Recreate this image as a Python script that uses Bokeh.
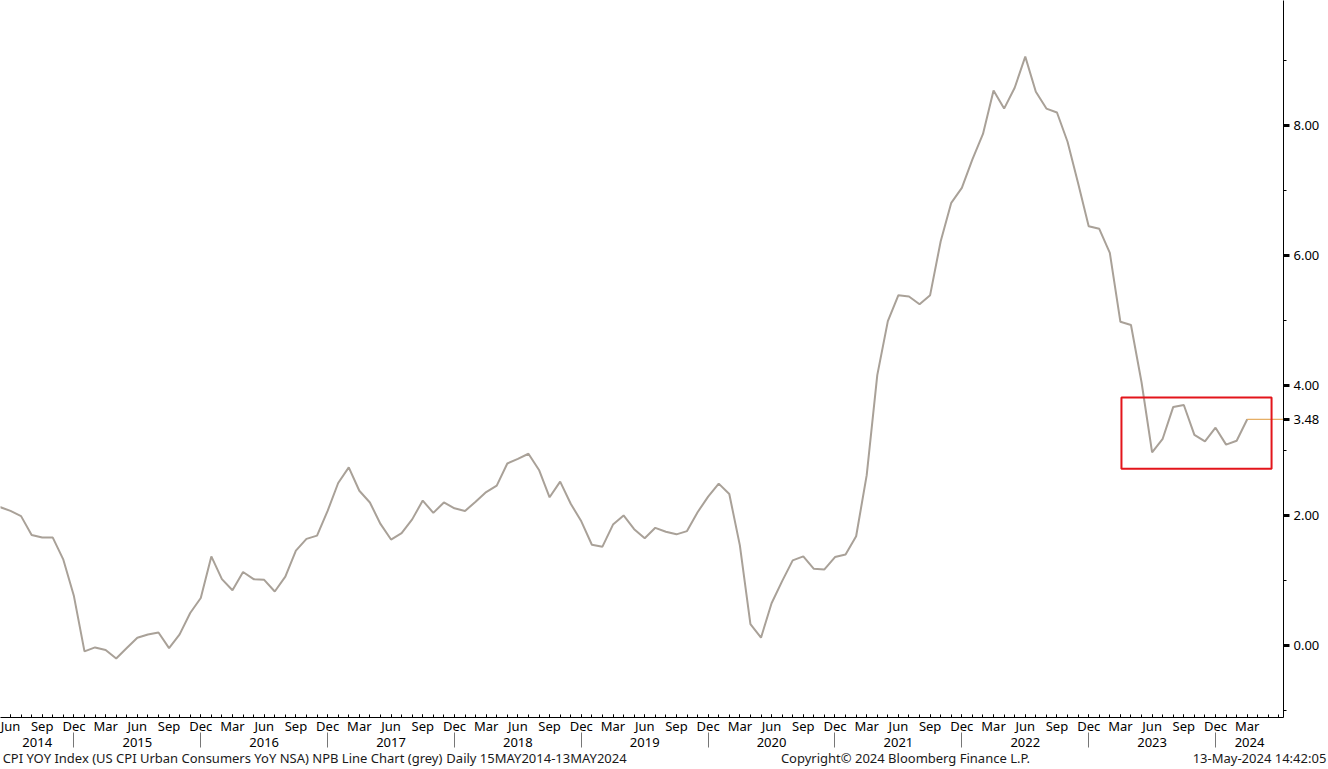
from bokeh.plotting import figure
from bokeh.models import (FixedTicker, LinearAxis, Range1d, BoxAnnotation, ColumnDataSource)
from bokeh.embed import file_html
from bokeh.resources import INLINE

# ---------------- data ----------------
start_month = 5  # first observation: May 2014 (month index, Jan 2014 = 1)
cpi_yoy = [
    2.13, 2.07, 1.99, 1.70, 1.66, 1.66, 1.32, 0.76,                          # 2014 May-Dec
    -0.09, -0.03, -0.07, -0.20, -0.04, 0.12, 0.17, 0.20, -0.04, 0.17, 0.50, 0.73,  # 2015
    1.37, 1.02, 0.85, 1.13, 1.02, 1.01, 0.83, 1.06, 1.46, 1.64, 1.69, 2.07,  # 2016
    2.50, 2.74, 2.38, 2.20, 1.87, 1.63, 1.73, 1.94, 2.23, 2.04, 2.20, 2.11,  # 2017
    2.07, 2.21, 2.36, 2.46, 2.80, 2.87, 2.95, 2.70, 2.28, 2.52, 2.18, 1.91,  # 2018
    1.55, 1.52, 1.86, 2.00, 1.79, 1.65, 1.81, 1.75, 1.71, 1.76, 2.05, 2.29,  # 2019
    2.49, 2.33, 1.54, 0.33, 0.12, 0.65, 0.99, 1.31, 1.37, 1.18, 1.17, 1.36,  # 2020
    1.40, 1.68, 2.62, 4.16, 4.99, 5.39, 5.37, 5.25, 5.39, 6.22, 6.81, 7.04,  # 2021
    7.48, 7.87, 8.54, 8.26, 8.58, 9.06, 8.52, 8.26, 8.20, 7.75, 7.11, 6.45,  # 2022
    6.41, 6.04, 4.98, 4.93, 4.05, 2.97, 3.18, 3.67, 3.70, 3.24, 3.14, 3.35,  # 2023
    3.09, 3.15, 3.48,                                                        # 2024 Jan-Mar
]
quarter_names = {3: "Mar", 6: "Jun", 9: "Sep", 12: "Dec"}
years = list(range(2014, 2025))
y_major = [0, 2, 4, 6, 8]
y_minor = [-1, 1, 3, 5, 7, 9]
highlight_months = (111.1, 125.3)   # box around Jun 2023 - Mar 2024 (month index)
highlight_values = (2.72, 3.815)

footer_texts = [
    "CPI YOY Index (US CPI Urban Consumers YoY NSA) NPB Line Chart (grey)",
    "Daily 15MAY2014-13MAY2024",
    "Copyright\u00a9 2024 Bloomberg Finance L.P.",
    "13-May-2024 14:42:05",
]
footer_px_centers = [222, 536, 905, 1259]   # horizontal placement of footer pieces (px)

month_idx = [start_month + k for k in range(len(cpi_yoy))]

# ---------------- layout ----------------
W, H = 1328, 769
BR, BB = 45, 52
X0, X1 = 5.054, 126.43
Y0, Y1 = -1.108, 9.923
PXX = (W - BR) / (X1 - X0)

FONT = "Noto Sans"
LINE_COL = "#a9a198"

p = figure(width=W, height=H, x_range=Range1d(X0, X1), y_range=Range1d(Y0, Y1),
           x_axis_location=None, y_axis_location=None,
           toolbar_location=None, output_backend="svg",
           min_border_left=0, min_border_top=0, min_border_right=BR, min_border_bottom=BB)
p.outline_line_color = None
p.grid.visible = False
p.background_fill_color = "white"
p.border_fill_color = "white"

# ---- x axis: months ----
minor = list(range(6, int(X1) + 1))
major = [m for m in minor if m % 3 == 0 and m <= month_idx[-1]]
xax = LinearAxis(ticker=FixedTicker(ticks=major, minor_ticks=minor))
xax.major_label_overrides = {m: quarter_names[(m - 1) % 12 + 1] for m in major}
xax.axis_line_color = "black"
xax.major_tick_in = 3
xax.major_tick_out = 0
xax.minor_tick_in = 3
xax.minor_tick_out = 0
xax.major_tick_line_color = "black"
xax.minor_tick_line_color = "black"
xax.major_label_standoff = -1
xax.major_label_text_font = FONT
xax.major_label_text_font_size = "13px"
xax.major_label_text_color = "black"
p.add_layout(xax, "below")

# ---- x axis: years (labels centred in each visible year, separators at year ends) ----
year_centers = []
year_bounds = []
for yr in years:
    a = (yr - 2014) * 12
    b = a + 12
    lo, hi = max(a, X0), min(b, X1)
    year_centers.append((lo + hi) / 2)
    if b < X1:
        year_bounds.append(b)
yax2 = LinearAxis(ticker=FixedTicker(ticks=year_centers, minor_ticks=year_bounds))
yax2.major_label_overrides = {c: str(yr) for c, yr in zip(year_centers, years)}
yax2.axis_line_color = None
yax2.major_tick_in = 0
yax2.major_tick_out = 0
yax2.major_tick_line_color = None
yax2.minor_tick_in = 5
yax2.minor_tick_out = 10
yax2.minor_tick_line_color = "#777777"
yax2.major_label_standoff = -10
yax2.major_label_text_font = FONT
yax2.major_label_text_font_size = "13px"
yax2.major_label_text_color = "black"
p.add_layout(yax2, "below")

# ---- footer as a label-only axis ----
footer_pos = [X0 + c / PXX for c in footer_px_centers]
fax = LinearAxis(ticker=FixedTicker(ticks=footer_pos, minor_ticks=[]))
fax.major_label_overrides = {c: t for c, t in zip(footer_pos, footer_texts)}
fax.axis_line_color = None
fax.major_tick_in = 0
fax.major_tick_out = 0
fax.major_tick_line_color = None
fax.minor_tick_line_color = None
fax.major_label_standoff = -1
fax.major_label_text_font = FONT
fax.major_label_text_font_size = "13px"
fax.major_label_text_color = "#1a1a1a"
p.add_layout(fax, "below")

# ---- empty spacer axis that pulls the footer down to the page bottom ----
spacer = LinearAxis(ticker=FixedTicker(ticks=[], minor_ticks=[]))
spacer.axis_line_color = None
spacer.major_tick_line_color = None
spacer.minor_tick_line_color = None
spacer.major_tick_in = 0
spacer.major_tick_out = -9
spacer.minor_tick_in = 0
spacer.minor_tick_out = 0
p.add_layout(spacer, "below")

# ---- y axis on the right ----
last_x, last_v = month_idx[-1], cpi_yoy[-1]
ry = LinearAxis(ticker=FixedTicker(ticks=y_major + [last_v], minor_ticks=y_minor))
ry.major_label_overrides = {v: f"{v:.2f}" for v in y_major + [last_v]}
ry.axis_line_color = "black"
ry.major_tick_in = 0
ry.major_tick_out = 6
ry.major_tick_line_width = 3
ry.major_tick_line_color = "black"
ry.minor_tick_in = 0
ry.minor_tick_out = 3
ry.minor_tick_line_color = "black"
ry.major_label_standoff = 4
ry.major_label_text_font = FONT
ry.major_label_text_font_size = "13px"
ry.major_label_text_color = "black"
p.add_layout(ry, "right")

# ---- data line ----
src = ColumnDataSource(data=dict(x=month_idx, y=cpi_yoy))
p.line("x", "y", source=src, line_color=LINE_COL, line_width=2)

# last value tracker line
p.segment(x0=[last_x], y0=[last_v], x1=[X1], y1=[last_v], line_color="#e09a3c", line_width=1)

# highlight box
p.add_layout(BoxAnnotation(left=highlight_months[0], right=highlight_months[1],
                           bottom=highlight_values[0], top=highlight_values[1],
                           fill_alpha=0, line_color="#e3151b", line_alpha=1, line_width=2))

open("out.html", "w").write(file_html(p, INLINE))
